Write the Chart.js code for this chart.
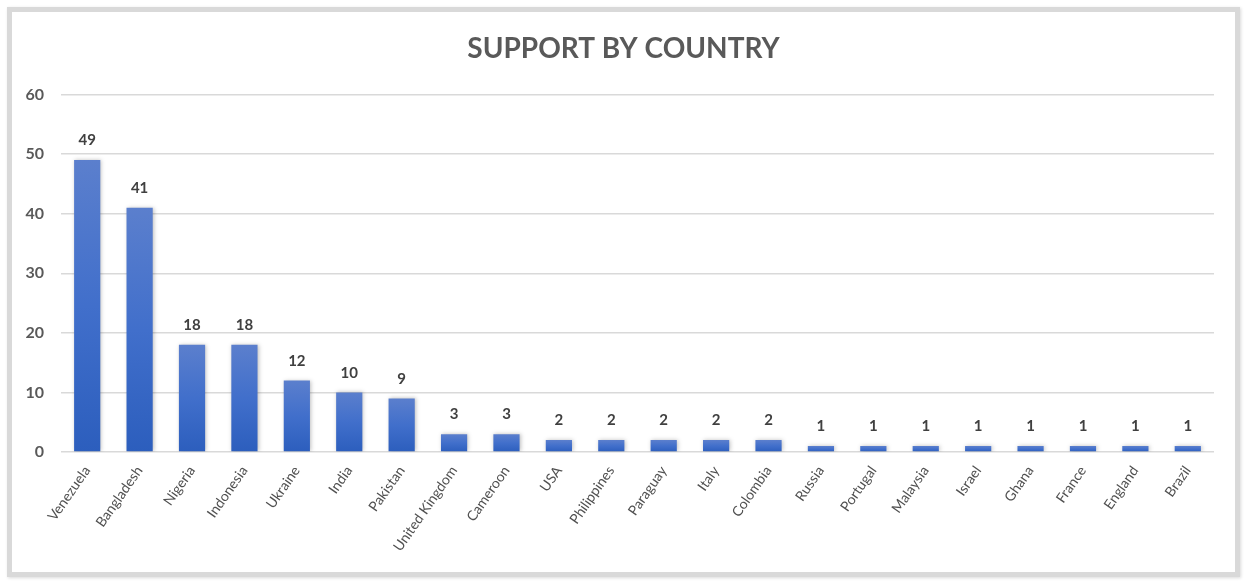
<!DOCTYPE html>
<html lang="en">
<head>
  <meta charset="UTF-8">
  <title>Support by country</title>
  <script src="https://cdn.jsdelivr.net/npm/chart.js"></script>
  <style>
    html, body { margin: 0; padding: 0; background: #ffffff; }
    #frame {
      position: absolute;
      left: 7px; top: 7px;
      width: 1223px; height: 560px;
      border: 5px solid #d9d9d9;
      box-shadow: 1px 1px 3px rgba(0,0,0,0.15);
      background: #ffffff;
    }
    #chart { display: block; }
  </style>
</head>
<body>
  <div id="frame">
    <canvas id="chart" width="1223" height="560"></canvas>
  </div>

  <script>
    // categories and values
    const countries = ['Venezuela', 'Bangladesh', 'Nigeria', 'Indonesia', 'Ukraine', 'India', 'Pakistan',
      'United Kingdom', 'Cameroon', 'USA', 'Philippines', 'Paraguay', 'Italy', 'Colombia', 'Russia',
      'Portugal', 'Malaysia', 'Israel', 'Ghana', 'France', 'England', 'Brazil'];
    const supporters = [49, 41, 18, 18, 12, 10, 9, 3, 3, 2, 2, 2, 2, 2, 1, 1, 1, 1, 1, 1, 1, 1];
    const yTicks = [0, 10, 20, 30, 40, 50, 60];

    const fontFamily = 'Lato, "Open Sans", sans-serif';

    // gradient per bar : lighter at the top, darker at the base
    function barFill(ctx) {
      const chart = ctx.chart;
      const y = chart.scales && chart.scales.y;
      if (!y || ctx.parsed === undefined) return '#4472c4';
      const top = y.getPixelForValue(ctx.parsed.y);
      const base = y.getPixelForValue(0);
      if (!isFinite(top) || !isFinite(base) || base - top < 1) return '#4472c4';
      const g = chart.ctx.createLinearGradient(0, top, 0, base);
      g.addColorStop(0, '#5b7fcd');
      g.addColorStop(0.5, '#416fcb');
      g.addColorStop(1, '#2c5ebd');
      return g;
    }

    // soft shadow behind the bars
    const barShadow = {
      id: 'barShadow',
      beforeDatasetsDraw(chart) {
        const c = chart.ctx;
        c.save();
        c.shadowColor = 'rgba(0,0,0,0.25)';
        c.shadowBlur = 4;
        c.shadowOffsetX = 1;
        c.shadowOffsetY = 0;
      },
      afterDatasetsDraw(chart) {
        chart.ctx.restore();
      }
    };

    // value written above each bar
    const valueLabels = {
      id: 'valueLabels',
      afterDatasetsDraw(chart) {
        const c = chart.ctx;
        const meta = chart.getDatasetMeta(0);
        c.save();
        c.font = 'bold 15px ' + fontFamily;
        c.fillStyle = '#404040';
        c.textAlign = 'center';
        c.textBaseline = 'bottom';
        meta.data.forEach((bar, i) => {
          c.fillText(String(supporters[i]), bar.x, bar.y - 12);
        });
        c.restore();
      }
    };

    new Chart(document.getElementById('chart'), {
      type: 'bar',
      data: {
        labels: countries,
        datasets: [{
          label: 'Support',
          data: supporters,
          backgroundColor: barFill,
          borderWidth: 0,
          barPercentage: 0.5,
          categoryPercentage: 1.0
        }]
      },
      options: {
        responsive: false,
        animation: false,
        devicePixelRatio: 1,
        layout: { padding: 0 },
        plugins: {
          legend: { display: false },
          tooltip: { enabled: false },
          title: {
            display: true,
            text: 'SUPPORT BY COUNTRY',
            color: '#595959',
            font: { family: fontFamily, size: 28, weight: 'bold' },
            padding: { top: 20, bottom: 29 }
          }
        },
        scales: {
          x: {
            grid: { display: false },
            border: { display: false },
            ticks: {
              color: '#505050',
              font: { family: fontFamily, size: 14 },
              minRotation: 55,
              maxRotation: 55,
              autoSkip: false,
              padding: 3
            },
            afterFit(scale) { scale.height = 120; }
          },
          y: {
            min: 0,
            max: 60,
            afterBuildTicks(scale) { scale.ticks = yTicks.map(v => ({ value: v })); },
            grid: { color: '#d9d9d9', lineWidth: 1.5, drawTicks: false },
            border: { display: false },
            ticks: {
              color: '#595959',
              font: { family: fontFamily, size: 16, weight: 'bold' },
              padding: 17
            },
            afterFit(scale) { scale.width = 49; }
          },
          // empty right-hand axis, only keeps the right margin so the title stays centred
          yRight: {
            position: 'right',
            min: 0,
            max: 60,
            grid: { display: false },
            border: { display: false },
            ticks: { display: false },
            afterFit(scale) { scale.width = 21; }
          }
        }
      },
      plugins: [barShadow, valueLabels]
    });
  </script>
</body>
</html>
